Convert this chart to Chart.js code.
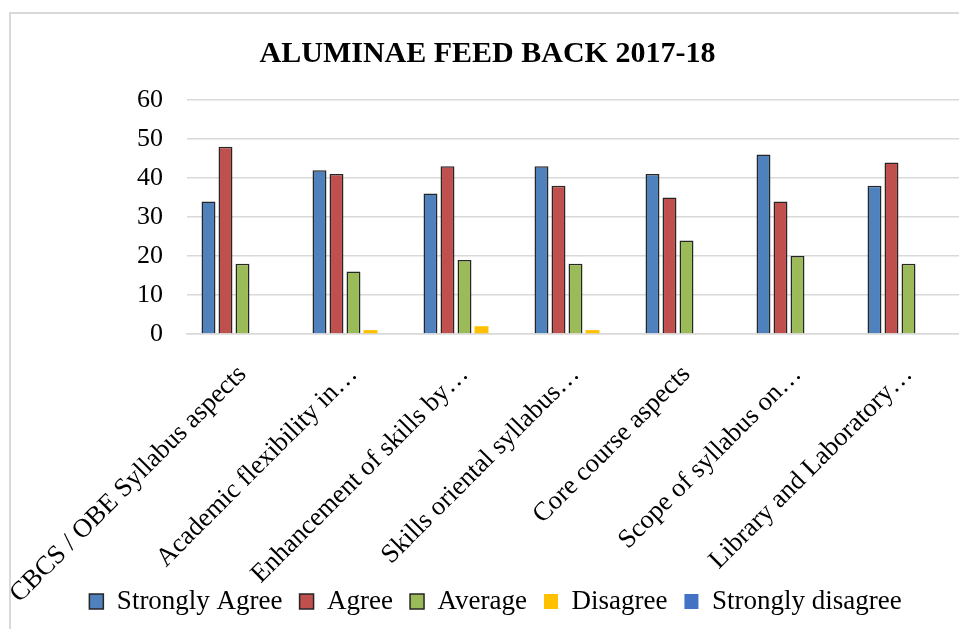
<!DOCTYPE html>
<html>
<head>
<meta charset="utf-8">
<title>Aluminae Feed Back 2017-18</title>
<script src="https://cdn.jsdelivr.net/npm/chart.js@4/dist/chart.umd.min.js"></script>
<style>
  html, body {
    margin: 0;
    padding: 0;
    background: #ffffff;
    overflow: hidden;
    width: 959px;
    height: 629px;
  }
  #frame {
    position: absolute;
    left: 9px;
    top: 12px;
    width: 960px;
    height: 680px;
    border: 2px solid #d9d9d9;
    background: #ffffff;
  }
</style>
</head>
<body>
<div id="frame">
  <canvas id="feedbackChart" width="960" height="652"></canvas>
</div>
<script>
const categories = [
  'CBCS / OBE Syllabus aspects',
  'Academic flexibility in\u2026',
  'Enhancement of skills by\u2026',
  'Skills oriental syllabus\u2026',
  'Core course aspects',
  'Scope of syllabus on\u2026',
  'Library and Laboratory\u2026'
];
const stronglyAgree = [34, 42, 36, 43, 41, 46, 38];
const agree = [48, 41, 43, 38, 35, 34, 44];
const average = [18, 16, 19, 18, 24, 20, 18];
const disagree = [0, 1, 2, 1, 0, 0, 0];
const stronglyDisagree = [0, 0, 0, 0, 0, 0, 0];
const yTicks = [0, 10, 20, 30, 40, 50, 60];

document.addEventListener('DOMContentLoaded', () => {
  const serif = "'Liberation Serif', 'Times New Roman', serif";
  const outline = '#262626';

  // the legend sits beside the lowest rotated label, so pull it up over the axis box
  const legendShift = {
    id: 'legendShift',
    afterLayout(chart) {
      const legend = chart.legend;
      if (!legend) return;
      const dy = 584 - (legend.top + legend.height / 2);
      legend.top += dy;
      legend.bottom += dy;
      legend.left += 8;
      legend.right += 8;
    }
  };

  try {
    const ctx = document.getElementById('feedbackChart').getContext('2d');
    new Chart(ctx, {
      type: 'bar',
      data: {
        labels: categories,
        datasets: [
          { label: 'Strongly Agree', data: stronglyAgree, backgroundColor: '#4f81bd', borderColor: outline, borderWidth: 1.5 },
          { label: 'Agree', data: agree, backgroundColor: '#c0504d', borderColor: outline, borderWidth: 1.5 },
          { label: 'Average', data: average, backgroundColor: '#9bbb59', borderColor: outline, borderWidth: 1.5 },
          { label: 'Disagree', data: disagree, backgroundColor: '#ffc000', borderWidth: 0 },
          { label: 'Strongly disagree', data: stronglyDisagree, backgroundColor: '#4472c4', borderWidth: 0 }
        ]
      },
      options: {
        responsive: false,
        animation: false,
        categoryPercentage: 0.766,
        barPercentage: 0.82,
        layout: {
          padding: { left: 0, right: 7, top: 0, bottom: 6 }
        },
        scales: {
          x: {
            grid: { display: false, drawTicks: false },
            border: { display: true, color: '#d9d9d9', width: 1.5 },
            ticks: {
              color: '#000000',
              font: { family: serif, size: 26.5 },
              minRotation: 45,
              maxRotation: 45,
              autoSkip: false,
              padding: 25
            },
            afterFit: (scale) => {
              scale.height = 272;
              scale.paddingLeft = 0;
              scale.paddingRight = 0;
            }
          },
          y: {
            min: 0,
            max: 60,
            afterBuildTicks: (scale) => {
              scale.ticks = yTicks.map(v => ({ value: v }));
            },
            grid: { color: '#d9d9d9', lineWidth: 1.5, drawTicks: false },
            border: { display: false },
            ticks: {
              color: '#000000',
              font: { family: serif, size: 26 },
              padding: 24
            },
            afterFit: (scale) => { scale.width = 176; }
          }
        },
        plugins: {
          title: {
            display: true,
            text: 'ALUMINAE FEED BACK 2017-18',
            color: '#000000',
            font: { family: serif, size: 30, weight: 'bold' },
            padding: { top: 22, bottom: 28 }
          },
          legend: {
            position: 'bottom',
            labels: {
              color: '#000000',
              font: { family: serif, size: 27 },
              boxWidth: 14,
              boxHeight: 15,
              padding: 17
            }
          },
          tooltip: { enabled: false }
        }
      },
      plugins: [legendShift]
    });
  } catch (e) {
    console.error('Error creating feedbackChart:', e);
  }
});
</script>
</body>
</html>
